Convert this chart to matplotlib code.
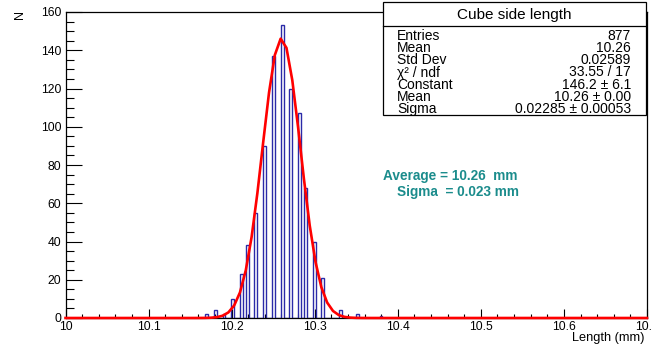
import numpy as np
import matplotlib
matplotlib.use("Agg")
import matplotlib.pyplot as plt
from matplotlib.patches import Rectangle
from matplotlib.lines import Line2D
from matplotlib.ticker import MultipleLocator, FuncFormatter

plt.rcParams['font.family'] = ['Liberation Sans', 'DejaVu Sans']

# ---- data ----
lengths = [10.17, 10.18, 10.19, 10.20, 10.21, 10.22, 10.23, 10.24, 10.25,
           10.26, 10.27, 10.28, 10.29, 10.30, 10.31, 10.33, 10.35, 10.38]
counts = [2, 4, 2, 10, 23, 38, 55, 90, 137, 153, 120, 107, 68, 40, 21, 4, 2, 1]
x_min, x_max, n_bins = 10.0, 10.7, 200
fit_constant, fit_mean, fit_sigma = 146.2, 10.26, 0.02285

stats_title = "Cube side length"
stats_labels = ["Entries", "Mean", "Std Dev", "χ² / ndf", "Constant", "Mean", "Sigma"]
stats_values = ["877", "10.26", "0.02589", "33.55 / 17", "146.2 ± 6.1",
                "10.26 ± 0.00", "0.02285 ± 0.00053"]
note_lines = ["Average = 10.26  mm", "Sigma  = 0.023 mm"]

# ---- figure ----
W, H = 652, 347
fig = plt.figure(figsize=(W / 100, H / 100), dpi=100)


def fx(px):
    return px / W


def fy(py):
    return 1 - py / H


L, R, T, B = 65.5, 647, 12, 318
ax = fig.add_axes([fx(L), fy(B), (R - L) / W, (B - T) / H])

edges = np.linspace(x_min, x_max, n_bins + 1)
binw = (x_max - x_min) / n_bins
hist = np.zeros(n_bins)
idx = np.floor((np.array(lengths) - x_min) / binw + 1e-6).astype(int)
np.add.at(hist, idx, counts)
ax.stairs(hist, edges, color='#2a2aa8', lw=1.0, zorder=2)

xf = np.linspace(x_min, x_max, 101)
yf = fit_constant * np.exp(-0.5 * ((xf - fit_mean) / fit_sigma) ** 2)
ax.plot(xf, yf, color='#ff0000', lw=1.9, zorder=3, clip_on=False)

ax.set_xlim(x_min, x_max)
ax.set_ylim(0, 160)
ax.xaxis.set_major_locator(MultipleLocator(0.1))
ax.xaxis.set_minor_locator(MultipleLocator(0.02))
ax.yaxis.set_major_locator(MultipleLocator(20))
ax.yaxis.set_minor_locator(MultipleLocator(5))
ax.xaxis.set_major_formatter(FuncFormatter(lambda v, p: f"{round(v, 2):g}"))
ax.tick_params(axis='x', which='major', direction='in', length=6.5, width=0.8,
               labelsize=8.7, pad=2.5, top=False)
ax.tick_params(axis='x', which='minor', direction='in', length=3.2, width=0.8, top=False)
ax.tick_params(axis='y', which='major', direction='in', length=11.5, width=0.8,
               labelsize=8.7, pad=3, right=False)
ax.tick_params(axis='y', which='minor', direction='in', length=5.8, width=0.8, right=False)
for s in ax.spines.values():
    s.set_linewidth(0.9)

fig.text(fx(645), fy(338), "Length (mm)", ha='right', va='center', fontsize=9.2)
fig.text(fx(20), fy(10), "N", ha='center', va='top', rotation=90, fontsize=9)

# ---- annotation ----
teal = '#1b8c8c'
fig.text(fx(383), fy(176), note_lines[0], ha='left', va='center', fontsize=9.8,
         fontweight='bold', color=teal)
fig.text(fx(397), fy(192), note_lines[1], ha='left', va='center', fontsize=9.8,
         fontweight='bold', color=teal)

# ---- stats box ----
bx0, bx1, by0, by1 = 383, 646, 2.5, 115
fig.add_artist(Rectangle((fx(bx0), fy(by1)), (bx1 - bx0) / W, (by1 - by0) / H,
                         transform=fig.transFigure, facecolor='white',
                         edgecolor='black', lw=0.9, zorder=10))
fig.add_artist(Line2D([fx(bx0), fx(bx1)], [fy(25.5), fy(25.5)],
                      transform=fig.transFigure, color='black', lw=0.9, zorder=11))
fig.text(fx((bx0 + bx1) / 2), fy(14.5), stats_title, ha='center', va='center',
         fontsize=11, zorder=12)
fig.text(fx(397), fy(72.5), "\n".join(stats_labels), ha='left', va='center',
         multialignment='left', fontsize=10, linespacing=0.83, zorder=12)
fig.text(fx(631), fy(72.5), "\n".join(stats_values), ha='right', va='center',
         multialignment='right', fontsize=10, linespacing=0.83, zorder=12)

fig.savefig("out.png", dpi=100)
